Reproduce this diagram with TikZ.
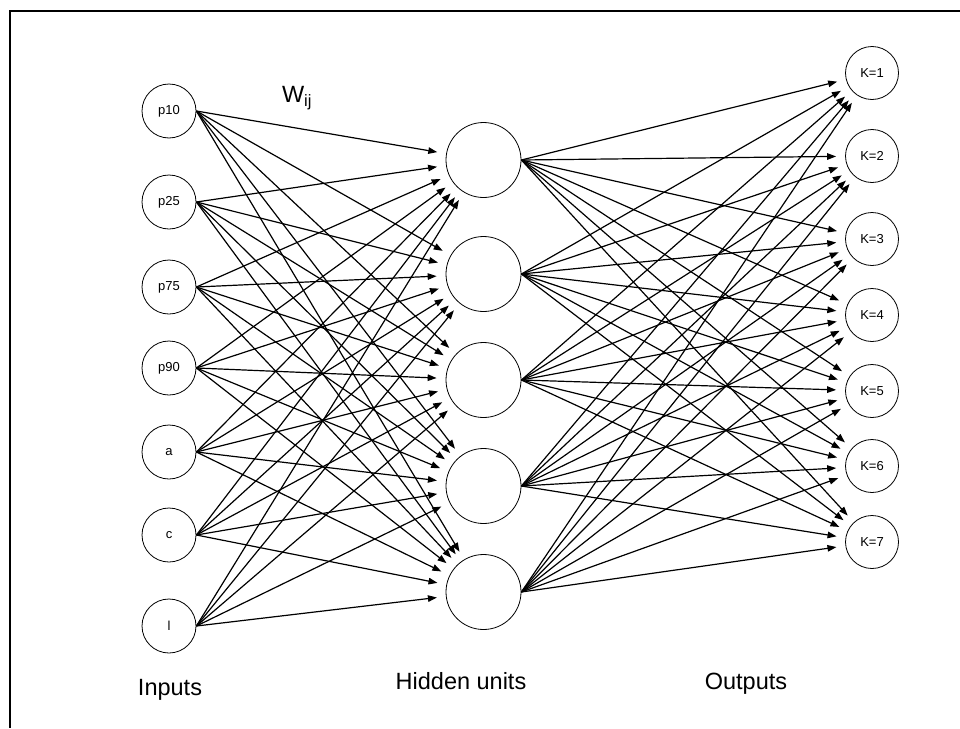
\documentclass[tikz,border=0pt]{standalone}
\usepackage{fontspec}
\setmainfont{Liberation Sans}
\usetikzlibrary{arrows.meta}

\begin{document}
\begin{tikzpicture}[x=1pt,y=-1pt,
  >={Triangle[length=9pt,width=6.5pt]},
  inp/.style={draw,circle,line width=0.8pt,minimum size=54pt,inner sep=0pt,font=\fontsize{13}{15}\selectfont},
  hid/.style={draw,circle,line width=0.8pt,minimum size=75pt,inner sep=0pt},
  outp/.style={draw,circle,line width=0.8pt,minimum size=53pt,inner sep=0pt,font=\fontsize{13}{15}\selectfont},
  lbl/.style={anchor=base,font=\fontsize{23.5}{28}\selectfont},
  wire/.style={->,line width=1.2pt,shorten >=9pt},
]
\useasboundingbox (0,0) rectangle (960,728);
% frame, only top and left edge show
\draw[line width=2.6pt] (960,11) -- (10,11) -- (10,728);

% inputs
\node[inp] (i1) at (169,111) {p10};
\node[inp] (i2) at (169,202) {p25};
\node[inp] (i3) at (169,287) {p75};
\node[inp] (i4) at (169,368) {p90};
\node[inp] (i5) at (169,452) {a};
\node[inp] (i6) at (169,535) {c};
\node[inp] (i7) at (169,626) {l};

% hidden units
\node[hid] (h1) at (483.5,160) {};
\node[hid] (h2) at (483.5,274) {};
\node[hid] (h3) at (483.5,380) {};
\node[hid] (h4) at (483.5,486) {};
\node[hid] (h5) at (483.5,592) {};

% outputs
\node[outp] (k1) at (872,73)  {K=1};
\node[outp] (k2) at (872,156) {K=2};
\node[outp] (k3) at (872,239) {K=3};
\node[outp] (k4) at (872,315) {K=4};
\node[outp] (k5) at (872,391) {K=5};
\node[outp] (k6) at (872,466) {K=6};
\node[outp] (k7) at (872,542) {K=7};

% weights
\foreach \i in {1,...,7}
  \foreach \j in {1,...,5}
    \draw[wire] (i\i.east) -- (h\j);
\foreach \j in {1,...,5}
  \foreach \k in {1,...,7}
    \draw[wire] (h\j.east) -- (k\k);

% labels
\node[font=\fontsize{23.5}{28}\selectfont] (w) at (297,98) {W\textsubscript{ij}};
\node[lbl] (lin)  at (170,695) {Inputs};
\node[lbl] (lhid) at (461,689) {Hidden units};
\node[lbl] (lout) at (746,689) {Outputs};
\end{tikzpicture}
\end{document}
